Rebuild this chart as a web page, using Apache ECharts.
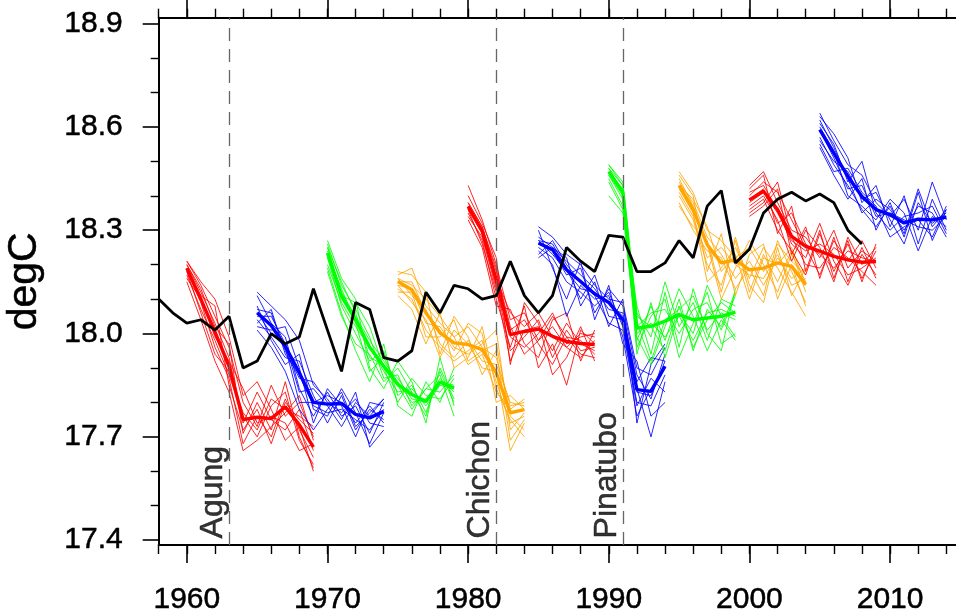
<!DOCTYPE html>
<html>
<head>
<meta charset="utf-8">
<script src="https://cdn.jsdelivr.net/npm/echarts@6/dist/echarts.min.js"></script>
<style>
html,body{margin:0;padding:0;background:#fff;}
#chart{width:956px;height:614px;}
</style>
</head>
<body>
<div id="chart"></div>
<script>
// ---------------- DATA ----------------
const obsStart = 1958;
const obsValues = [18.10, 18.06, 18.03, 18.04, 18.01, 18.05, 17.90, 17.92, 18.00, 17.97,
  17.99, 18.13, 18.01, 17.89, 18.09, 18.07, 17.93, 17.92, 17.95, 18.12,
  18.06, 18.14, 18.13, 18.10, 18.11, 18.21, 18.11, 18.06, 18.11, 18.25,
  18.21, 18.18, 18.285, 18.28, 18.18, 18.18, 18.205, 18.27, 18.22, 18.37,
  18.415, 18.205, 18.245, 18.35, 18.39, 18.41, 18.385, 18.405, 18.38, 18.30,
  18.26];

const xTickLabels = [1960, 1970, 1980, 1990, 2000, 2010];
const yTickLabels = [17.4, 17.7, 18.0, 18.3, 18.6, 18.9];
const yMinorTicks = [17.5, 17.6, 17.8, 17.9, 18.1, 18.2, 18.4, 18.5, 18.7, 18.8];

const volcanoYears = [1963, 1982, 1991];
const volcanoNames = ['Agung', 'Chichon', 'Pinatubo'];

// Hindcast 1960 (red)
const h1960Mean = [18.19, 18.10, 18.005, 17.905, 17.75, 17.757, 17.753, 17.787, 17.735, 17.67];
const h1960Members = [
  [18.21, 18.14, 18.05, 17.96, 17.80, 17.73, 17.85, 17.76, 17.80, 17.70],
  [18.18, 18.09, 17.96, 17.87, 17.68, 17.76, 17.70, 17.81, 17.72, 17.64],
  [18.20, 18.12, 18.03, 17.93, 17.74, 17.83, 17.75, 17.72, 17.78, 17.66],
  [18.17, 18.07, 17.98, 17.88, 17.76, 17.70, 17.79, 17.83, 17.69, 17.62],
  [18.19, 18.11, 18.08, 17.85, 17.72, 17.78, 17.68, 17.80, 17.75, 17.71],
  [18.16, 18.10, 17.99, 17.92, 17.84, 17.74, 17.76, 17.74, 17.66, 17.68],
  [18.20, 18.13, 18.02, 17.97, 17.71, 17.80, 17.72, 17.86, 17.70, 17.61],
  [18.18, 18.06, 17.94, 17.89, 17.77, 17.72, 17.81, 17.78, 17.76, 17.73],
  [18.15, 18.04, 17.92, 17.83, 17.66, 17.69, 17.73, 17.77, 17.82, 17.69],
  [18.21, 18.15, 18.10, 17.99, 17.82, 17.86, 17.78, 17.69, 17.73, 17.60]
];
// Hindcast 1965 (blue)
const h1965Mean = [18.06, 18.023, 17.963, 17.886, 17.80, 17.795, 17.797, 17.765, 17.755, 17.774];
const h1965Members = [
  [18.11, 18.03, 17.99, 17.84, 17.76, 17.83, 17.76, 17.79, 17.71, 17.80],
  [18.04, 17.99, 17.93, 17.92, 17.82, 17.74, 17.82, 17.72, 17.78, 17.75],
  [18.07, 18.06, 17.95, 17.87, 17.86, 17.80, 17.77, 17.81, 17.74, 17.73],
  [18.02, 18.01, 18.02, 17.90, 17.74, 17.84, 17.79, 17.70, 17.80, 17.79],
  [18.08, 17.98, 17.91, 17.94, 17.78, 17.76, 17.84, 17.77, 17.68, 17.77],
  [18.05, 18.05, 17.97, 17.83, 17.84, 17.79, 17.73, 17.80, 17.76, 17.81],
  [18.06, 18.00, 17.96, 17.80, 17.80, 17.82, 17.80, 17.74, 17.79, 17.74],
  [18.03, 18.07, 17.94, 17.88, 17.79, 17.77, 17.78, 17.75, 17.72, 17.78],
  [18.12, 18.08, 18.04, 17.98, 17.85, 17.81, 17.75, 17.83, 17.67, 17.72],
  [18.01, 17.96, 17.89, 17.78, 17.72, 17.78, 17.83, 17.73, 17.77, 17.81]
];
// Hindcast 1970 (green)
const h1970Mean = [18.234, 18.108, 18.04, 17.96, 17.905, 17.852, 17.823, 17.803, 17.859, 17.842];
const h1970Members = [
  [18.26, 18.14, 18.07, 17.99, 17.87, 17.88, 17.79, 17.84, 17.83, 17.88],
  [18.22, 18.08, 18.00, 17.92, 17.95, 17.82, 17.85, 17.77, 17.89, 17.80],
  [18.25, 18.12, 18.05, 17.98, 17.92, 17.86, 17.80, 17.81, 17.86, 17.85],
  [18.18, 18.05, 17.97, 17.94, 17.86, 17.90, 17.83, 17.76, 17.90, 17.81],
  [18.24, 18.11, 18.09, 18.02, 17.90, 17.80, 17.87, 17.82, 17.81, 17.87],
  [18.23, 18.13, 18.03, 17.89, 17.93, 17.85, 17.78, 17.84, 17.88, 17.76],
  [18.20, 18.09, 18.02, 17.96, 17.89, 17.83, 17.84, 17.79, 17.85, 17.84],
  [18.25, 18.15, 18.06, 17.93, 17.91, 17.87, 17.81, 17.80, 17.87, 17.83],
  [18.27, 18.16, 18.10, 17.90, 17.84, 17.92, 17.86, 17.74, 17.93, 17.79],
  [18.19, 18.06, 17.95, 17.86, 17.97, 17.79, 17.76, 17.86, 17.80, 17.90]
];
// Hindcast 1975 (orange)
const h1975Mean = [18.151, 18.127, 18.06, 18.002, 17.973, 17.968, 17.953, 17.886, 17.77, 17.779];
const h1975Members = [
  [18.17, 18.19, 18.08, 18.03, 17.99, 18.02, 17.96, 17.93, 17.79, 17.80],
  [18.13, 18.10, 18.01, 17.96, 17.92, 17.95, 17.98, 17.86, 17.74, 17.76],
  [18.16, 18.14, 18.10, 18.05, 17.99, 17.91, 17.94, 17.83, 17.78, 17.81],
  [18.14, 18.09, 18.04, 17.93, 18.01, 17.97, 17.90, 17.89, 17.66, 17.74],
  [18.15, 18.15, 18.06, 18.01, 17.95, 18.03, 18.00, 17.80, 17.82, 17.78],
  [18.12, 18.12, 17.99, 17.99, 18.04, 17.92, 17.95, 17.97, 17.76, 17.72],
  [18.16, 18.11, 18.07, 17.97, 17.93, 17.98, 17.92, 17.91, 17.80, 17.79],
  [18.14, 18.13, 18.03, 18.02, 17.96, 17.94, 17.97, 18.01, 17.72, 17.77],
  [18.18, 18.17, 18.12, 17.94, 18.05, 17.99, 17.88, 17.95, 17.69, 17.75],
  [18.11, 18.07, 17.97, 18.06, 17.90, 17.93, 18.02, 17.84, 17.75, 17.70]
];
// Hindcast 1980 (red)
const h1980Mean = [18.369, 18.297, 18.156, 17.997, 18.006, 18.013, 17.992, 17.977, 17.971, 17.968];
const h1980Members = [
  [18.43, 18.33, 18.20, 18.04, 18.06, 17.98, 18.02, 17.96, 18.00, 17.99],
  [18.36, 18.29, 18.14, 17.95, 17.99, 18.04, 17.93, 18.01, 17.95, 17.96],
  [18.38, 18.31, 18.18, 18.02, 17.94, 17.98, 18.05, 17.99, 17.98, 17.94],
  [18.35, 18.27, 18.10, 17.96, 18.08, 17.90, 17.97, 17.85, 18.01, 17.97],
  [18.37, 18.30, 18.16, 18.06, 18.02, 18.06, 17.99, 17.96, 17.93, 17.98],
  [18.34, 18.28, 18.13, 17.92, 18.01, 18.02, 17.95, 18.03, 17.97, 17.95],
  [18.38, 18.31, 18.19, 17.99, 17.96, 18.00, 18.06, 17.97, 17.99, 18.00],
  [18.36, 18.26, 18.12, 18.01, 18.04, 17.97, 17.91, 17.99, 17.94, 17.93],
  [18.40, 18.32, 18.22, 17.91, 18.09, 18.03, 17.88, 17.93, 18.02, 17.92],
  [18.33, 18.25, 18.08, 18.07, 17.97, 17.93, 18.04, 18.06, 17.92, 18.01]
];
// Hindcast 1985 (blue)
const h1985Mean = [18.263, 18.243, 18.185, 18.151, 18.115, 18.09, 18.04, 17.837, 17.832, 17.905];
const h1985Members = [
  [18.31, 18.28, 18.23, 18.20, 18.14, 18.10, 18.09, 17.90, 17.88, 17.96],
  [18.25, 18.22, 18.15, 18.12, 18.08, 18.12, 18.02, 17.80, 17.79, 17.88],
  [18.28, 18.25, 18.21, 18.17, 18.13, 18.07, 18.06, 17.86, 17.93, 17.92],
  [18.24, 18.20, 18.05, 18.14, 18.10, 18.11, 17.99, 17.76, 17.84, 17.90],
  [18.27, 18.26, 18.19, 18.10, 18.17, 18.05, 18.04, 17.84, 17.70, 17.86],
  [18.26, 18.24, 18.17, 18.19, 18.06, 18.13, 18.08, 17.88, 17.81, 17.94],
  [18.23, 18.27, 18.20, 18.15, 18.11, 18.03, 18.01, 17.79, 17.87, 17.83],
  [18.27, 18.23, 18.18, 18.13, 18.12, 18.09, 18.05, 17.83, 17.82, 17.92],
  [18.30, 18.19, 18.10, 18.21, 18.04, 18.14, 17.97, 17.92, 17.76, 17.80],
  [18.22, 18.25, 18.22, 18.08, 18.15, 18.02, 18.10, 17.74, 17.91, 17.97]
];
// Hindcast 1990 (green)
const h1990Mean = [18.47, 18.41, 18.016, 18.021, 18.036, 18.055, 18.04, 18.045, 18.05, 18.062];
const h1990Members = [
  [18.49, 18.44, 18.06, 17.99, 18.15, 18.02, 18.09, 17.98, 18.10, 18.08],
  [18.46, 18.40, 17.98, 18.08, 17.98, 18.10, 17.95, 18.07, 18.02, 18.12],
  [18.48, 18.43, 18.03, 17.92, 18.04, 18.07, 18.11, 18.01, 18.06, 18.04],
  [18.45, 18.37, 17.96, 18.05, 18.10, 17.93, 18.03, 18.12, 17.97, 18.00],
  [18.47, 18.42, 18.05, 18.02, 17.95, 18.08, 17.96, 18.04, 18.09, 18.06],
  [18.40, 18.35, 17.99, 17.91, 18.02, 18.13, 18.05, 17.95, 18.04, 17.98],
  [18.48, 18.41, 18.02, 18.06, 18.07, 18.00, 18.07, 18.09, 18.01, 18.11],
  [18.46, 18.39, 18.00, 18.03, 17.99, 18.05, 17.98, 18.06, 18.07, 18.05],
  [18.44, 18.36, 18.08, 17.94, 18.12, 17.96, 18.13, 18.00, 17.95, 18.13],
  [18.49, 18.43, 17.94, 18.09, 17.93, 18.06, 18.00, 18.14, 18.05, 17.99]
];
// Hindcast 1995 (orange)
const h1995Mean = [18.43, 18.36, 18.258, 18.205, 18.214, 18.185, 18.19, 18.205, 18.195, 18.142];
const h1995Members = [
  [18.47, 18.41, 18.30, 18.27, 18.22, 18.25, 18.18, 18.26, 18.21, 18.17],
  [18.40, 18.33, 18.20, 18.14, 18.27, 18.12, 18.23, 18.15, 18.24, 18.12],
  [18.44, 18.38, 18.28, 18.23, 18.16, 18.21, 18.14, 18.22, 18.16, 18.19],
  [18.42, 18.35, 18.15, 18.19, 18.25, 18.16, 18.25, 18.19, 18.12, 18.05],
  [18.45, 18.37, 18.26, 18.10, 18.19, 18.27, 18.20, 18.12, 18.23, 18.15],
  [18.38, 18.30, 18.24, 18.22, 18.13, 18.19, 18.11, 18.27, 18.18, 18.09],
  [18.43, 18.39, 18.31, 18.18, 18.23, 18.10, 18.22, 18.20, 18.25, 18.14],
  [18.41, 18.34, 18.22, 18.25, 18.20, 18.17, 18.16, 18.23, 18.14, 18.16],
  [18.46, 18.40, 18.18, 18.29, 18.11, 18.23, 18.26, 18.10, 18.20, 18.08],
  [18.37, 18.31, 18.27, 18.12, 18.28, 18.14, 18.09, 18.25, 18.11, 18.19]
];
// Hindcast 2000 (red)
const h2000Mean = [18.388, 18.413, 18.36, 18.282, 18.253, 18.239, 18.224, 18.214, 18.207, 18.209];
const h2000Members = [
  [18.43, 18.47, 18.38, 18.30, 18.28, 18.22, 18.30, 18.19, 18.24, 18.21],
  [18.36, 18.39, 18.30, 18.24, 18.17, 18.29, 18.18, 18.26, 18.16, 18.24],
  [18.40, 18.44, 18.41, 18.33, 18.25, 18.17, 18.27, 18.21, 18.27, 18.19],
  [18.37, 18.40, 18.33, 18.21, 18.30, 18.25, 18.15, 18.28, 18.20, 18.25],
  [18.41, 18.43, 18.36, 18.26, 18.22, 18.32, 18.21, 18.14, 18.23, 18.17],
  [18.35, 18.38, 18.44, 18.28, 18.20, 18.19, 18.25, 18.22, 18.18, 18.14],
  [18.39, 18.42, 18.32, 18.35, 18.26, 18.23, 18.19, 18.24, 18.22, 18.21],
  [18.38, 18.41, 18.35, 18.27, 18.24, 18.26, 18.23, 18.17, 18.19, 18.22],
  [18.42, 18.46, 18.29, 18.37, 18.18, 18.30, 18.16, 18.27, 18.15, 18.26],
  [18.34, 18.37, 18.42, 18.23, 18.31, 18.16, 18.28, 18.15, 18.25, 18.16]
];
// Hindcast 2005 (blue)
const h2005Mean = [18.592, 18.524, 18.456, 18.398, 18.36, 18.345, 18.321, 18.332, 18.33, 18.338];
const h2005Members = [
  [18.64, 18.56, 18.49, 18.46, 18.38, 18.34, 18.39, 18.30, 18.44, 18.33],
  [18.57, 18.49, 18.43, 18.36, 18.31, 18.37, 18.29, 18.42, 18.31, 18.36],
  [18.61, 18.55, 18.44, 18.50, 18.35, 18.30, 18.34, 18.35, 18.37, 18.29],
  [18.56, 18.50, 18.47, 18.39, 18.41, 18.33, 18.26, 18.38, 18.32, 18.35],
  [18.60, 18.53, 18.40, 18.37, 18.33, 18.39, 18.35, 18.24, 18.34, 18.31],
  [18.55, 18.47, 18.48, 18.41, 18.37, 18.28, 18.31, 18.33, 18.28, 18.37],
  [18.62, 18.54, 18.45, 18.35, 18.39, 18.36, 18.30, 18.37, 18.35, 18.28],
  [18.59, 18.51, 18.42, 18.43, 18.34, 18.35, 18.33, 18.31, 18.30, 18.34],
  [18.63, 18.58, 18.51, 18.38, 18.43, 18.31, 18.40, 18.26, 18.39, 18.30],
  [18.54, 18.46, 18.39, 18.45, 18.30, 18.38, 18.28, 18.41, 18.27, 18.36]
];

const hindcasts = [
  { start: 1960, color: '#ff0000', mean: h1960Mean, members: h1960Members },
  { start: 1965, color: '#0000ff', mean: h1965Mean, members: h1965Members },
  { start: 1970, color: '#00ff00', mean: h1970Mean, members: h1970Members },
  { start: 1975, color: '#ffa500', mean: h1975Mean, members: h1975Members },
  { start: 1980, color: '#ff0000', mean: h1980Mean, members: h1980Members },
  { start: 1985, color: '#0000ff', mean: h1985Mean, members: h1985Members },
  { start: 1990, color: '#00ff00', mean: h1990Mean, members: h1990Members },
  { start: 1995, color: '#ffa500', mean: h1995Mean, members: h1995Members },
  { start: 2000, color: '#ff0000', mean: h2000Mean, members: h2000Members },
  { start: 2005, color: '#0000ff', mean: h2005Mean, members: h2005Members }
];

// ---------------- CHART ----------------
const FONT = '"Liberation Sans", Arial, Helvetica, sans-serif';
const xMin = 1958, xMax = 2015;
const yMin = 17.386, yMax = 18.917;
const TXT = { fontFamily: FONT, color: '#000', textBorderColor: '#000', textBorderWidth: 0.5 };

const series = [];
hindcasts.forEach(h => {
  h.members.forEach(m => {
    series.push({
      type: 'line', xAxisIndex: 0, yAxisIndex: 0,
      data: m.map((v, i) => [h.start + i, v]),
      showSymbol: false, symbol: 'none', silent: true, z: 2,
      lineStyle: { color: h.color, width: 1, opacity: 0.85 }
    });
  });
});
hindcasts.forEach(h => {
  series.push({
    type: 'line', xAxisIndex: 0, yAxisIndex: 0,
    data: h.mean.map((v, i) => [h.start + i, v]),
    showSymbol: false, symbol: 'none', silent: true, z: 3,
    lineStyle: { color: h.color, width: 3.4 }
  });
});
series.push({
  type: 'line', xAxisIndex: 0, yAxisIndex: 0,
  data: obsValues.map((v, i) => [obsStart + i, v]),
  showSymbol: false, symbol: 'none', silent: true, z: 4,
  lineStyle: { color: '#000', width: 2.8 },
  markLine: {
    silent: true, symbol: 'none', animation: false,
    label: { show: false },
    lineStyle: { color: '#666', width: 1.3, type: [13, 8] },
    data: volcanoYears.map(y => ({ xAxis: y }))
  }
});
series.push({
  type: 'scatter', xAxisIndex: 0, yAxisIndex: 0,
  data: volcanoYears.map(y => [y, 17.405]),
  symbolSize: 0, silent: true, z: 5,
  label: Object.assign({
    show: true, position: 'inside',
    formatter: p => volcanoNames[p.dataIndex],
    rotate: 90, align: 'left', verticalAlign: 'bottom',
    fontSize: 32
  }, TXT)
});

const majorXAxis = (pos) => ({
  type: 'value', min: xMin, max: xMax, position: pos,
  axisLine: { show: false },
  splitLine: { show: false },
  axisTick: { show: true, inside: false, length: 18, customValues: xTickLabels, lineStyle: { color: '#000', width: 1.6 } },
  axisLabel: { show: false }
});

const option = {
  animation: false,
  backgroundColor: '#fff',
  grid: { left: 158.7, right: -4.4, top: 17.7, bottom: 69, containLabel: false, outerBoundsMode: 'none' },
  xAxis: [
    {
      type: 'value', min: xMin, max: xMax, interval: 2, position: 'bottom',
      axisLine: { show: true, lineStyle: { color: '#000', width: 2 } },
      splitLine: { show: false },
      axisTick: { show: true, inside: false, length: 9, lineStyle: { color: '#000', width: 1.4 } },
      axisLabel: Object.assign({ show: true, customValues: xTickLabels, formatter: v => String(Math.round(v)), margin: 40, fontSize: 30 }, TXT)
    },
    majorXAxis('bottom'),
    {
      type: 'value', min: xMin, max: xMax, interval: 2, position: 'top',
      axisLine: { show: true, lineStyle: { color: '#000', width: 2 } },
      splitLine: { show: false },
      axisTick: { show: true, inside: false, length: 9, lineStyle: { color: '#000', width: 1.4 } },
      axisLabel: { show: false }
    },
    majorXAxis('top')
  ],
  yAxis: [
    {
      type: 'value', min: yMin, max: yMax, position: 'left',
      name: 'degC', nameLocation: 'middle', nameGap: 114, nameRotate: 90,
      nameTextStyle: Object.assign({ fontSize: 41 }, TXT),
      axisLine: { show: true, lineStyle: { color: '#000', width: 2 } },
      splitLine: { show: false },
      axisTick: { show: true, inside: false, length: 16, customValues: yTickLabels, lineStyle: { color: '#000', width: 1.6 } },
      axisLabel: Object.assign({ show: true, customValues: yTickLabels, margin: 36, formatter: v => Number(v).toFixed(1), fontSize: 30 }, TXT)
    },
    {
      type: 'value', min: yMin, max: yMax, position: 'left',
      axisLine: { show: false },
      splitLine: { show: false },
      axisTick: { show: true, inside: false, length: 8, customValues: yMinorTicks, lineStyle: { color: '#000', width: 1.4 } },
      axisLabel: { show: false }
    }
  ],
  series: series
};

const chart = echarts.init(document.getElementById('chart'), null, { renderer: 'canvas' });
chart.setOption(option);
</script>
</body>
</html>
